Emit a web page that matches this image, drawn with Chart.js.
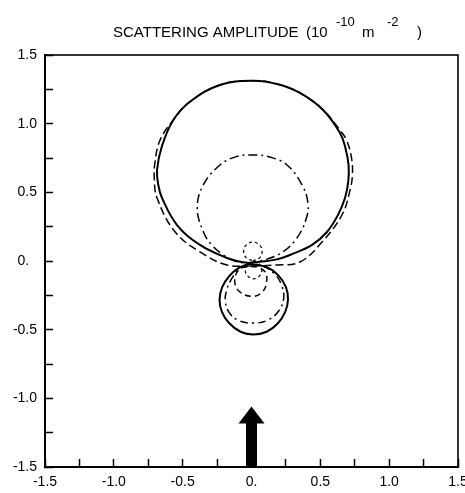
<!DOCTYPE html>
<html>
<head>
<meta charset="utf-8">
<script src="https://cdn.jsdelivr.net/npm/chart.js@4/dist/chart.umd.min.js"></script>
<style>
  html, body { margin: 0; padding: 0; background: #fff; }
  #wrap { width: 465px; height: 493px; }
</style>
</head>
<body>
<div id="wrap"><canvas id="c" width="465" height="493"></canvas></div>
<script>
// ---- data (scattering amplitude, units of 1e-10 m^-2) ----
const xTickLabels = ['-1.5', '-1.0', '-0.5', '0.', '0.5', '1.0', '1.5'];
const yTickLabels = ['-1.5', '-1.0', '-0.5', '0.\u2007', '0.5', '1.0', '1.5'];

// solid curve
const solidUpper = [[-0.02,-0.015],[0.06,-0.006],[0.183,0.012],[0.28,0.044],[0.44,0.117],[0.548,0.211],[0.628,0.335],[0.679,0.459],[0.703,0.58],[0.705,0.70],[0.683,0.82],[0.643,0.932],[0.52,1.10],[0.352,1.224],[0.185,1.289],[0.01,1.313],[-0.229,1.282],[-0.447,1.16],[-0.568,1.027],[-0.652,0.832],[-0.686,0.663],[-0.677,0.554],[-0.65,0.459],[-0.541,0.262],[-0.374,0.117],[-0.178,0.022],[-0.08,-0.005],[-0.02,-0.015]];
const solidLower = [[-0.02,-0.02],[-0.10,-0.055],[-0.162,-0.11],[-0.213,-0.19],[-0.232,-0.28],[-0.215,-0.37],[-0.165,-0.45],[-0.08,-0.515],[0.015,-0.535],[0.11,-0.515],[0.19,-0.455],[0.245,-0.37],[0.265,-0.28],[0.25,-0.19],[0.195,-0.105],[0.11,-0.045],[-0.02,-0.02]];

// long-dashed curve
const dashUpper = [[0.0,-0.036],[0.185,-0.029],[0.352,-0.007],[0.512,0.138],[0.657,0.335],[0.712,0.50],[0.733,0.626],[0.725,0.76],[0.69,0.88],[0.645,0.95],[0.52,1.10],[0.352,1.224],[0.185,1.289],[0.01,1.313],[-0.229,1.282],[-0.447,1.16],[-0.568,1.027],[-0.664,0.881],[-0.701,0.72],[-0.706,0.60],[-0.686,0.459],[-0.556,0.213],[-0.374,0.066],[-0.178,-0.029],[0.0,-0.036]];
const dashLower = [[-0.03,-0.04],[-0.093,-0.063],[-0.122,-0.148],[-0.09,-0.22],[0.004,-0.258],[0.08,-0.225],[0.11,-0.15],[0.10,-0.08],[0.04,-0.045],[-0.03,-0.04]];

// dash-dot curve
const dashDotUpper = [[-0.03,-0.015],[0.10,0.01],[0.229,0.066],[0.33,0.168],[0.395,0.30],[0.41,0.42],[0.367,0.554],[0.258,0.699],[0.14,0.755],[0.011,0.772],[-0.11,0.76],[-0.229,0.699],[-0.35,0.554],[-0.394,0.386],[-0.35,0.213],[-0.289,0.117],[-0.205,0.044],[-0.107,-0.005],[-0.03,-0.015]];
const dashDotLower = [[-0.03,-0.02],[-0.10,-0.07],[-0.15,-0.14],[-0.183,-0.22],[-0.19,-0.293],[-0.165,-0.37],[-0.10,-0.43],[0.01,-0.452],[0.12,-0.43],[0.2,-0.36],[0.234,-0.27],[0.22,-0.18],[0.173,-0.10],[0.08,-0.035],[-0.03,-0.02]];

// short-dashed curve
const shortDashUpper = [[0.01,0.0],[0.06,0.025],[0.077,0.07],[0.06,0.115],[0.01,0.138],[-0.04,0.115],[-0.057,0.07],[-0.04,0.025],[0.01,0.0]];
const shortDashLower = [[0.015,-0.005],[0.06,-0.025],[0.075,-0.065],[0.06,-0.107],[0.015,-0.13],[-0.03,-0.107],[-0.045,-0.065],[-0.03,-0.025],[0.015,-0.005]];

// incident-beam arrow (data units)
const arrowX = 0.0;
const arrowBaseY = -1.5;
const arrowTipY = -1.06;

// ---- chart ----
const toXY = pts => pts.map(p => ({ x: p[0], y: p[1] }));
function curve(pts, width, dash) {
  return {
    data: toXY(pts), showLine: true, borderColor: '#000', borderWidth: width,
    borderDash: dash, pointRadius: 0, pointHoverRadius: 0, tension: 0.4, fill: false
  };
}

const FONT = "'Liberation Sans', Arial, Helvetica, sans-serif";

function labelFor(list, v) {
  const k = (v + 1.5) / 0.5;
  const i = Math.round(k);
  return Math.abs(k - i) < 1e-6 ? list[i] : '';
}

const framePlugin = {
  id: 'frame',
  afterDraw(chart) {
    const { ctx, chartArea: a } = chart;
    ctx.save();
    ctx.strokeStyle = '#000';
    ctx.lineWidth = 1.6;
    ctx.strokeRect(a.left, a.top, a.right - a.left, a.bottom - a.top);
    ctx.restore();
  }
};

const arrowPlugin = {
  id: 'arrow',
  afterDatasetsDraw(chart) {
    const { ctx, scales: { x, y } } = chart;
    const cx = x.getPixelForValue(arrowX);
    const yb = y.getPixelForValue(arrowBaseY);
    const yt = y.getPixelForValue(arrowTipY);
    const headLen = 17, headHalf = 13, shaftHalf = 5.5;
    ctx.save();
    ctx.fillStyle = '#000';
    ctx.beginPath();
    ctx.moveTo(cx - shaftHalf, yb);
    ctx.lineTo(cx - shaftHalf, yt + headLen);
    ctx.lineTo(cx - headHalf, yt + headLen);
    ctx.lineTo(cx, yt);
    ctx.lineTo(cx + headHalf, yt + headLen);
    ctx.lineTo(cx + shaftHalf, yt + headLen);
    ctx.lineTo(cx + shaftHalf, yb);
    ctx.closePath();
    ctx.fill();
    ctx.restore();
  }
};

const titlePlugin = {
  id: 'sciTitle',
  afterDraw(chart) {
    const ctx = chart.ctx;
    ctx.save();
    ctx.fillStyle = '#000';
    ctx.textBaseline = 'alphabetic';
    ctx.textAlign = 'left';
    ctx.font = '15px ' + FONT;
    ctx.fillText('SCATTERING AMPLITUDE', 113, 37);
    ctx.fillText('(10', 306, 37);
    ctx.font = '13px ' + FONT;
    ctx.fillText('-10', 336, 26);
    ctx.font = '15px ' + FONT;
    ctx.fillText('m', 362, 37);
    ctx.font = '13px ' + FONT;
    ctx.fillText('-2', 387, 26);
    ctx.font = '15px ' + FONT;
    ctx.fillText(')', 417, 37);
    ctx.restore();
  }
};

new Chart(document.getElementById('c'), {
  type: 'scatter',
  data: {
    datasets: [
      curve(shortDashUpper, 1.2, [3, 3]),
      curve(shortDashLower, 1.2, [3, 3]),
      curve(dashUpper, 1.5, [8, 4]),
      curve(dashLower, 1.5, [6, 4]),
      curve(dashDotUpper, 1.5, [9, 4, 2, 4]),
      curve(dashDotLower, 1.5, [8, 4, 2, 4]),
      curve(solidUpper, 2, []),
      curve(solidLower, 2, [])
    ]
  },
  options: {
    responsive: false,
    devicePixelRatio: 1,
    animation: false,
    events: [],
    layout: { padding: { left: 0, right: 7, top: 55, bottom: 0 } },
    plugins: { legend: { display: false }, tooltip: { enabled: false }, title: { display: false } },
    scales: {
      x: {
        type: 'linear', position: 'bottom', min: -1.5, max: 1.5,
        afterFit(s) { s.height = 26; s.paddingLeft = 0; s.paddingRight = 0; },
        ticks: {
          stepSize: 0.25, autoSkip: false, maxRotation: 0, minRotation: 0,
          padding: 15, color: '#000', font: { family: FONT, size: 14 },
          callback: v => labelFor(xTickLabels, v)
        },
        grid: { drawOnChartArea: false, drawTicks: true, tickLength: -8, tickColor: '#000', tickWidth: 1.5 },
        border: { display: true, color: '#000', width: 2 }
      },
      y: {
        type: 'linear', position: 'left', min: -1.5, max: 1.5,
        afterFit(s) { s.width = 45; s.paddingTop = 0; s.paddingBottom = 0; },
        ticks: {
          stepSize: 0.25, autoSkip: false,
          padding: 16, color: '#000', font: { family: FONT, size: 14 },
          callback: v => labelFor(yTickLabels, v)
        },
        grid: { drawOnChartArea: false, drawTicks: true, tickLength: -8, tickColor: '#000', tickWidth: 1.5 },
        border: { display: true, color: '#000', width: 2 }
      }
    }
  },
  plugins: [framePlugin, arrowPlugin, titlePlugin]
});
</script>
</body>
</html>
